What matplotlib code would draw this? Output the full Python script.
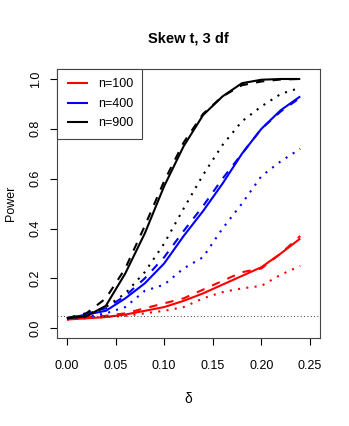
import matplotlib
matplotlib.use('Agg')
import matplotlib.pyplot as plt
import numpy as np

plt.rcParams['font.family'] = ['Liberation Sans', 'DejaVu Sans']

DELTA = [0.00, 0.02, 0.04, 0.06, 0.08, 0.10, 0.12, 0.14, 0.16, 0.18, 0.20, 0.22, 0.24]

# n=100
RED_SOLID = [0.035, 0.040, 0.045, 0.055, 0.070, 0.085, 0.110, 0.140, 0.175, 0.210, 0.245, 0.300, 0.360]
RED_DASHED = [0.040, 0.045, 0.050, 0.060, 0.080, 0.100, 0.120, 0.155, 0.190, 0.225, 0.240, 0.300, 0.370]
RED_DOTTED = [0.035, 0.040, 0.045, 0.050, 0.060, 0.070, 0.085, 0.120, 0.145, 0.160, 0.170, 0.215, 0.250]

# n=400
BLUE_SOLID = [0.040, 0.055, 0.070, 0.120, 0.180, 0.260, 0.370, 0.470, 0.580, 0.700, 0.800, 0.875, 0.930]
BLUE_DASHED = [0.040, 0.060, 0.080, 0.130, 0.200, 0.285, 0.390, 0.490, 0.600, 0.700, 0.800, 0.870, 0.925]
BLUE_DOTTED = [0.040, 0.045, 0.060, 0.085, 0.150, 0.175, 0.240, 0.285, 0.400, 0.500, 0.610, 0.670, 0.720]

# n=900
BLACK_SOLID = [0.040, 0.048, 0.090, 0.220, 0.380, 0.570, 0.730, 0.855, 0.930, 0.983, 0.997, 1.000, 1.000]
BLACK_DASHED = [0.040, 0.060, 0.120, 0.240, 0.410, 0.590, 0.745, 0.860, 0.930, 0.975, 0.990, 0.998, 1.000]
BLACK_DOTTED = [0.040, 0.055, 0.085, 0.140, 0.225, 0.340, 0.480, 0.615, 0.735, 0.830, 0.890, 0.940, 0.965]

LABELS = ['n=100', 'n=400', 'n=900']
COLORS = ['#ff0000', '#0000ff', '#000000']

LW = 1.5


def main():
  fig = plt.figure(figsize=(3.49, 4.26), dpi=100)
  ax = fig.add_axes([0.164, 0.206, 0.752, 0.632])

  series = [
    (RED_SOLID, RED_DASHED, RED_DOTTED),
    (BLUE_SOLID, BLUE_DASHED, BLUE_DOTTED),
    (BLACK_SOLID, BLACK_DASHED, BLACK_DOTTED),
  ]
  x = np.array(DELTA)
  handles = []
  for (solid, dashed, dotted), color, label in zip(series, COLORS, LABELS):
    h, = ax.plot(x, solid, color=color, lw=LW, solid_capstyle='butt')
    ax.plot(x, dashed, color=color, lw=LW, dashes=(4, 4))
    ax.plot(x, dotted, color=color, lw=LW, dashes=(1, 3))
    handles.append(h)

  ax.axhline(0.05, color='black', lw=0.6, dashes=(1, 3))

  ax.set_xlim(-0.01, 0.26)
  ax.set_ylim(-0.04, 1.04)
  ax.set_xticks([0.00, 0.05, 0.10, 0.15, 0.20, 0.25])
  ax.set_xticklabels(['0.00', '0.05', '0.10', '0.15', '0.20', '0.25'])
  ax.set_yticks([0.0, 0.2, 0.4, 0.6, 0.8, 1.0])
  ax.set_yticklabels(['0.0', '0.2', '0.4', '0.6', '0.8', '1.0'], rotation=90, va='center')
  ax.tick_params(direction='out', length=5, width=0.8, labelsize=9, colors='black')
  ax.tick_params(axis='x', pad=11)
  ax.tick_params(axis='y', pad=6)
  for sp in ax.spines.values():
    sp.set_linewidth(0.8)
    sp.set_color('#444444')

  ax.set_xlabel('δ', fontsize=10, labelpad=14)
  ax.set_ylabel('Power', fontsize=9, labelpad=9)
  ax.set_title('Skew t, 3 df', fontsize=10.5, fontweight='bold', pad=19)

  leg = ax.legend(handles, LABELS, loc='upper left', fontsize=9, fancybox=False,
                  edgecolor='#444444', framealpha=1, borderaxespad=0,
                  handlelength=1.7, handletextpad=0.8, labelspacing=0.6,
                  borderpad=0.75)
  leg.get_frame().set_linewidth(0.8)

  plt.savefig('out.png', dpi=100)
  plt.close()


if __name__ == '__main__':
  main()
